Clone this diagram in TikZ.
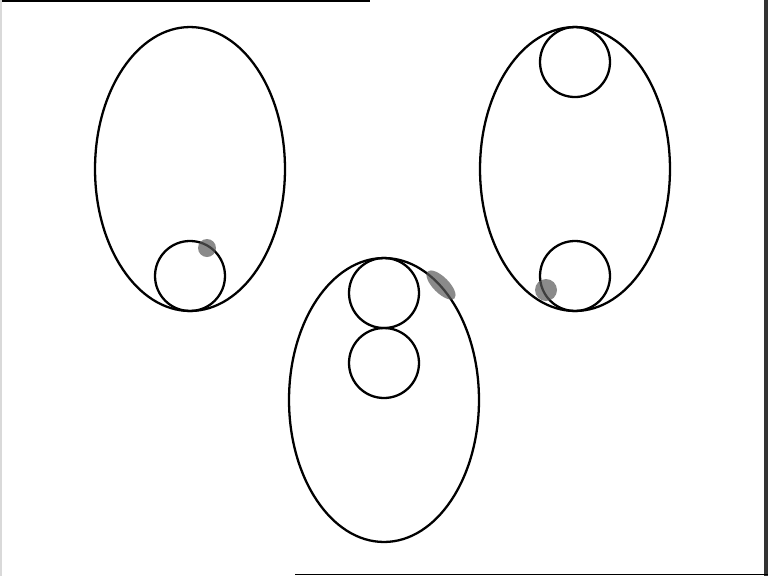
\documentclass[tikz,border=0pt]{standalone}
\usetikzlibrary{positioning,shapes.geometric}
\tikzset{
  bowl/.style={draw, ellipse, inner sep=0pt, outer sep=0pt, minimum width=3.8cm, minimum height=5.68cm, line width=1.3pt},
  ball/.style={draw, circle, inner sep=0pt, outer sep=0pt, minimum size=1.4cm, line width=1.3pt},
  smudge/.style={fill=black!65, opacity=0.7, draw=none}
}
\begin{document}
\begin{tikzpicture}[x=0.02cm,y=-0.02cm]
  \useasboundingbox (0,0) rectangle (768,576);
  % frame edges
  \draw[line width=1pt] (0,0.8) -- (370,0.8);
  \draw[line width=2pt, black!80] (766,0) -- (766,576);
  \draw[line width=1pt] (295,574.5) -- (768,574.5);
  \draw[black!15, line width=0.8pt] (1,0) -- (1,576);

  % the three bowls
  \node[bowl] (leftbowl) at (190,169) {};
  \node[bowl] (rightbowl) at (575,169) {};
  \node[bowl] (midbowl) at (384,400) {};

  % balls inside
  \node[ball, anchor=south] (leftball) at (leftbowl.south) {};
  \node[ball, anchor=north] (rightup) at (rightbowl.north) {};
  \node[ball, anchor=south] (rightdown) at (rightbowl.south) {};
  \node[ball, anchor=north] (midup) at (midbowl.north) {};
  \node[ball, below=0pt of midup] (middown) {};

  % blurred spots
  \fill[smudge] (207,248) circle (9);
  \fill[smudge, rotate around={-45:(441,285)}] (441,285) ellipse (19 and 8);
  \fill[smudge] (546,290) circle (11);
\end{tikzpicture}
\end{document}
